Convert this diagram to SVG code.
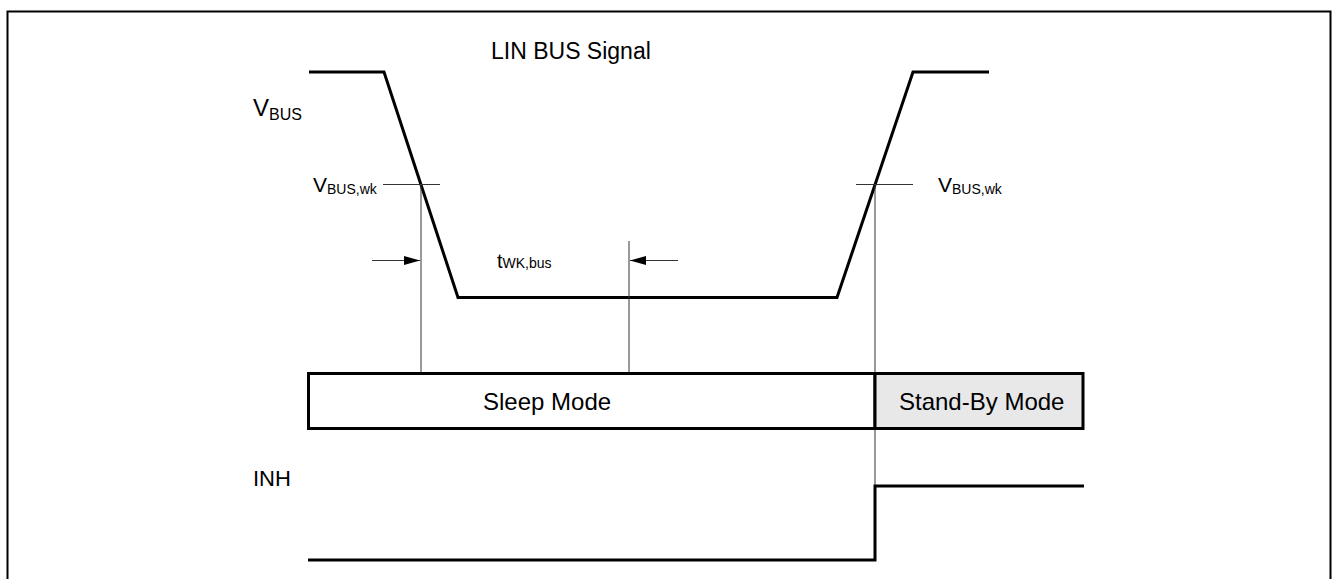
<svg xmlns="http://www.w3.org/2000/svg" width="1332" height="579" viewBox="0 0 1332 579">
<defs>
<style>
text{font-family:"Liberation Sans",Arial,sans-serif;fill:#000}
.sig{fill:none;stroke:#000;stroke-width:3}
.thin{fill:none;stroke:#333;stroke-width:1}
.box{stroke:#000;stroke-width:3}
</style>
<marker id="ah" viewBox="0 0 16 10" refX="16" refY="5" markerWidth="16" markerHeight="10" markerUnits="userSpaceOnUse" orient="auto"><path d="M0,0.5 L16,5 L0,9.5 Z" fill="#000"/></marker>
</defs>
<rect width="1332" height="579" fill="#fff"/>
<path d="M7.5,579 V11.5 H1330.5 V579" fill="none" stroke="#000" stroke-width="2"/>
<g id="title"><text x="491" y="59" font-size="23">LIN BUS Signal</text></g>
<g id="vbus-label"><text x="253" y="116" font-size="24">V<tspan font-size="16" dy="4">BUS</tspan></text></g>
<g id="vbuswk-left"><text x="313" y="192" font-size="21">V<tspan font-size="14" dy="2">BUS,wk</tspan></text></g>
<g id="vbuswk-right"><text x="938" y="192" font-size="21">V<tspan font-size="14" dy="2">BUS,wk</tspan></text></g>
<g id="twk-label"><text x="497" y="268" font-size="20">t<tspan font-size="14">WK,bus</tspan></text></g>
<g id="connectors">
<path class="sig" d="M309,72 H384 L458,297.5 H837 L913,72 H989"/>
<path class="thin" d="M383,184.5 H440"/>
<path class="thin" d="M856,184.5 H913"/>
<path class="thin" d="M421,184 V373"/>
<path class="thin" d="M629,241 V373"/>
<path class="thin" d="M875,184 V486"/>
<path class="thin" d="M372,260.5 H420" marker-end="url(#ah)"/>
<path class="thin" d="M678,260.5 H630" marker-end="url(#ah)"/>
<path class="sig" d="M308,560 H875 V486 H1084"/>
</g>
<g id="sleep"><rect class="box" x="308.5" y="373.5" width="566.5" height="55" fill="#fff"/><text x="483" y="410" font-size="24">Sleep Mode</text></g>
<g id="standby"><rect class="box" x="875" y="373.5" width="208" height="55" fill="#e8e8e8"/><text x="899" y="410" font-size="24">Stand-By Mode</text></g>
<g id="inh-label"><text x="253" y="486" font-size="22">INH</text></g>
</svg>
